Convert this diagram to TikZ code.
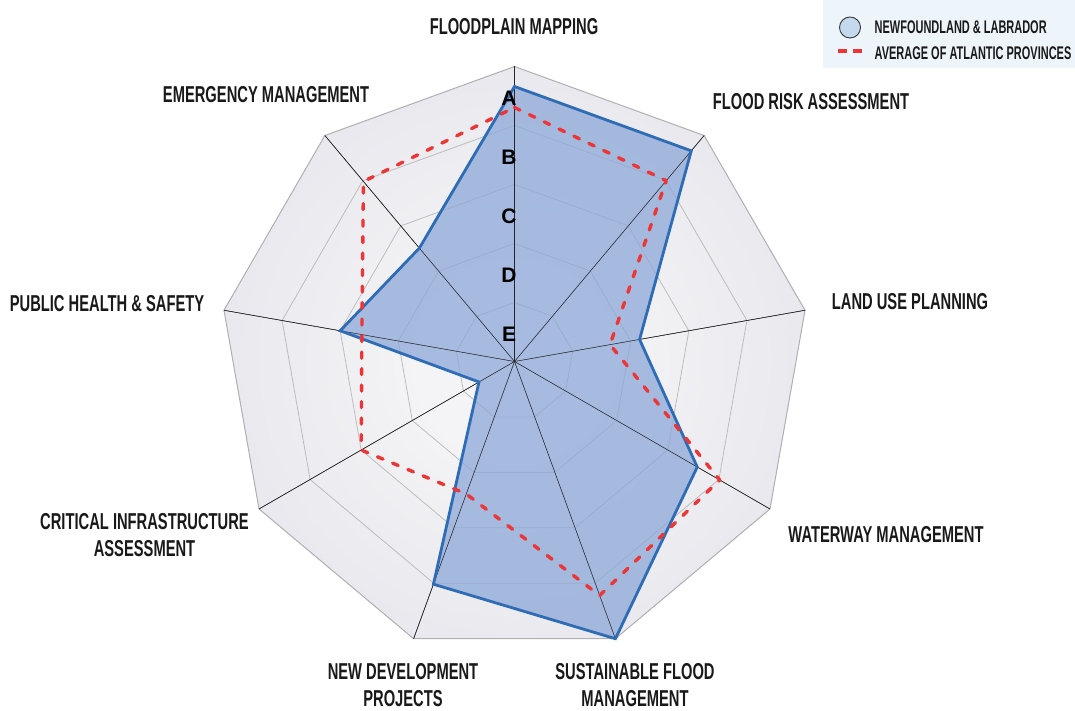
\documentclass[tikz,border=0pt]{standalone}
\usepackage{fontspec}
\setmainfont{Liberation Sans}
\newfontfamily\condfont{Liberation Sans Bold}[FakeStretch=0.64]
\newfontfamily\legfont{Liberation Sans Bold}[FakeStretch=0.6]
\usetikzlibrary{calc}
\definecolor{ringgray}{HTML}{BDBDBD}
\definecolor{outergray}{HTML}{B0B0B0}
\definecolor{bgin}{HTML}{F4F4F6}
\definecolor{bgout}{HTML}{D6D6E2}
\definecolor{nlfill}{HTML}{8DA8D8}
\definecolor{nlline}{HTML}{2E6CB5}
\definecolor{avgred}{HTML}{EE3535}
\definecolor{legbg}{HTML}{EEF5FA}
\definecolor{legcirc}{HTML}{C4D8EE}
\pgfdeclareradialshading{bgshade}{\pgfpoint{0bp}{0bp}}{color(0bp)=(bgin); color(8bp)=(bgin); color(50bp)=(bgout)}
\tikzset{
  ring/.style={draw=ringgray, line width=0.8pt},
  outerring/.style={draw=outergray, line width=1pt},
  spoke/.style={draw=black!85, line width=0.55pt},
  nlpoly/.style={draw=nlline, line width=2.8pt, line join=miter},
  nlarea/.style={fill=nlfill, fill opacity=0.75},
  avgpoly/.style={draw=avgred, line width=3.4pt, dash pattern=on 6pt off 10.5pt, line cap=round, line join=round},
  catlabel/.style={font=\condfont\fontsize{23}{27}\selectfont, align=center, inner sep=0pt, text=black!90},
  gradelabel/.style={font=\bfseries\fontsize{21}{24}\selectfont, inner sep=0pt},
  legtext/.style={font=\legfont\fontsize{18.3}{22}\selectfont, anchor=west, inner sep=0pt, text=black!90}
}
\begin{document}
\begin{tikzpicture}[x=1pt,y=1pt]
\useasboundingbox (0,0) rectangle (1075,711);
\coordinate (C) at (514.5,349.5);
% outer vertices and rings
\foreach \k in {0,...,8} {
  \coordinate (O\k) at ($(C)+({90-40*\k}:295)$);
}
\begin{scope}
  \clip (O0) \foreach \k in {1,...,8} { -- (O\k) } -- cycle;
  \shade[shading=bgshade] (C) circle (300);
\end{scope}
\foreach \r in {59,118,177,236} {
  \draw[ring] ($(C)+(90:\r)$) \foreach \k in {1,...,8} { -- ($(C)+({90-40*\k}:\r)$) } -- cycle;
}
\draw[outerring] (O0) \foreach \k in {1,...,8} { -- (O\k) } -- cycle;
\foreach \k in {0,...,8} { \draw[spoke] (C) -- (O\k); }
% data points
\foreach \r [count=\i from 0] in {275,275,127,211,295,237,41,177,148} {
  \coordinate (N\i) at ($(C)+({90-40*\i}:\r)$);
}
\foreach \r [count=\i from 0] in {254,236,97,237,249,141,177,155,235} {
  \coordinate (R\i) at ($(C)+({90-40*\i}:\r)$);
}
\fill[nlarea] (N0) -- (N1) -- (N2) -- (N3) -- (N4) -- (N5) -- (N6) -- (N7) -- (N8) -- cycle;
\foreach \k in {0,...,8} { \draw[spoke, line width=0.45pt] (C) -- (O\k); }
\draw[nlpoly] (N0) -- (N1) -- (N2) -- (N3) -- (N4) -- (N5) -- (N6) -- (N7) -- (N8) -- cycle;
\draw[avgpoly] (R0) -- (R1) -- (R2) -- (R3) -- (R4) -- (R5) -- (R6) -- (R7) -- (R8) -- cycle;
% grade labels
\node[gradelabel] (gA) at (509,613) {A};
\node[gradelabel] (gB) at (509,554) {B};
\node[gradelabel] (gC) at (509,495) {C};
\node[gradelabel] (gD) at (509,436) {D};
\node[gradelabel] (gE) at (509,377) {E};
% category labels
\node[catlabel] (l0) at (514,684) {FLOODPLAIN MAPPING};
\node[catlabel] (l1) at (811,609) {FLOOD RISK ASSESSMENT};
\node[catlabel] (l2) at (910,409) {LAND USE PLANNING};
\node[catlabel] (l3) at (886,176) {WATERWAY MANAGEMENT};
\node[catlabel] (l4) at (635,26) {SUSTAINABLE FLOOD\\MANAGEMENT};
\node[catlabel] (l5) at (403,26) {NEW DEVELOPMENT\\PROJECTS};
\node[catlabel] (l6) at (144.5,175.5) {CRITICAL INFRASTRUCTURE\\ASSESSMENT};
\node[catlabel] (l7) at (107,407) {PUBLIC HEALTH \& SAFETY};
\node[catlabel] (l8) at (266,616) {EMERGENCY MANAGEMENT};
% legend
\fill[legbg] (823,643) rectangle (1075,711);
\node[circle, draw=black!80, line width=0.9pt, fill=legcirc, minimum size=21pt, inner sep=0pt] (lc) at (850,683.5) {};
\coordinate (ld1) at (838,660);
\coordinate (ld2) at (862,660);
\draw[avgpoly, line cap=butt, dash pattern=on 9pt off 6pt] (ld1) -- (ld2);
\node[legtext] (lt1) at (874.5,683.5) {NEWFOUNDLAND \& LABRADOR};
\node[legtext] (lt2) at (874.5,658) {AVERAGE OF ATLANTIC PROVINCES};
\end{tikzpicture}
\end{document}
